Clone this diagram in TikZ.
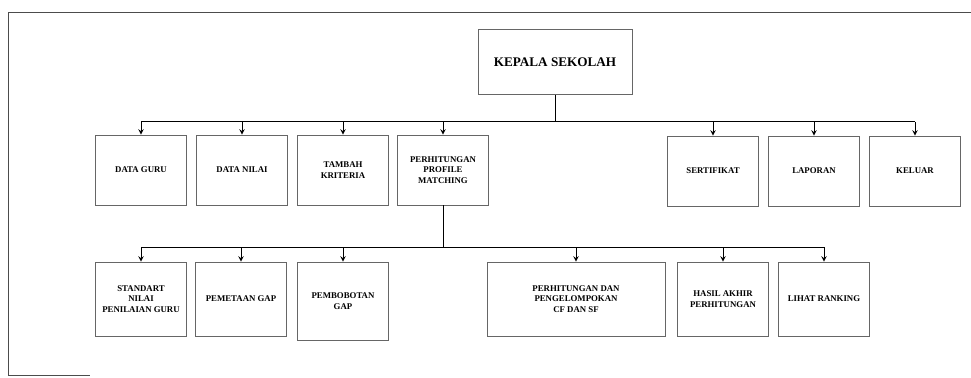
\documentclass[tikz,border=0pt]{standalone}
\usepackage{fontspec}
\setmainfont{Liberation Serif}
\usetikzlibrary{positioning, calc, arrows}

\begin{document}
\begin{tikzpicture}[x=0.02cm, y=-0.02cm, menu/.style={rectangle, draw=black!60,
    minimum width=1.82cm, minimum height=1.4cm, align=center, inner sep=1pt,
    font=\fontsize{5}{6}\selectfont\bfseries}, >=stealth]

  \useasboundingbox (0,0) rectangle (971,378);
  \draw[black!70] (971,12) -- (8,12) -- (8,375) -- (90,375);

  \node[menu, minimum width=3.08cm, minimum height=1.3cm,
    font=\fontsize{7.5}{9}\selectfont\bfseries] (kepsek) at (555,62) {KEPALA SEKOLAH};

  \node[menu] (guru) at (141,170) {DATA GURU};
  \node[menu] (nilai) at (242,170) {DATA NILAI};
  \node[menu] (kriteria) at (343,170) {TAMBAH\\KRITERIA};
  \node[menu] (profile) at (443,170) {PERHITUNGAN\\PROFILE\\MATCHING};
  \node[menu] (sertifikat) at (713,171) {SERTIFIKAT};
  \node[menu] (laporan) at (814,171) {LAPORAN};
  \node[menu] (keluar) at (915,171) {KELUAR};

  \node[menu, minimum height=1.48cm] (standart) at (141,299) {STANDART\\NILAI\\PENILAIAN GURU};
  \node[menu, minimum height=1.48cm] (pemetaan) at (241,299) {PEMETAAN GAP};
  \node[menu, minimum height=1.56cm] (pembobotan) at (343,301) {PEMBOBOTAN\\GAP};
  \node[menu, minimum width=3.56cm, minimum height=1.48cm] (hitung) at (576,299) {PERHITUNGAN DAN\\PENGELOMPOKAN\\CF DAN SF};
  \node[menu, minimum height=1.48cm] (hasil) at (723,299) {HASIL AKHIR\\PERHITUNGAN};
  \node[menu, minimum height=1.48cm] (ranking) at (824,299) {LIHAT RANKING};

  \draw (kepsek.south) -- ++(0,27) coordinate (bus);
  \draw (guru.north |- bus) -- (keluar.north |- bus);
  \foreach \n in {guru,nilai,kriteria,profile,sertifikat,laporan,keluar}
    \draw[->] (\n.north |- bus) -- (\n.north);

  \draw (profile.south) -- ++(0,42) coordinate (bus2);
  \draw (standart.north |- bus2) -- (ranking.north |- bus2);
  \foreach \n in {standart,pemetaan,pembobotan,hitung,hasil,ranking}
    \draw[->] (\n.north |- bus2) -- (\n.north);
\end{tikzpicture}
\end{document}
